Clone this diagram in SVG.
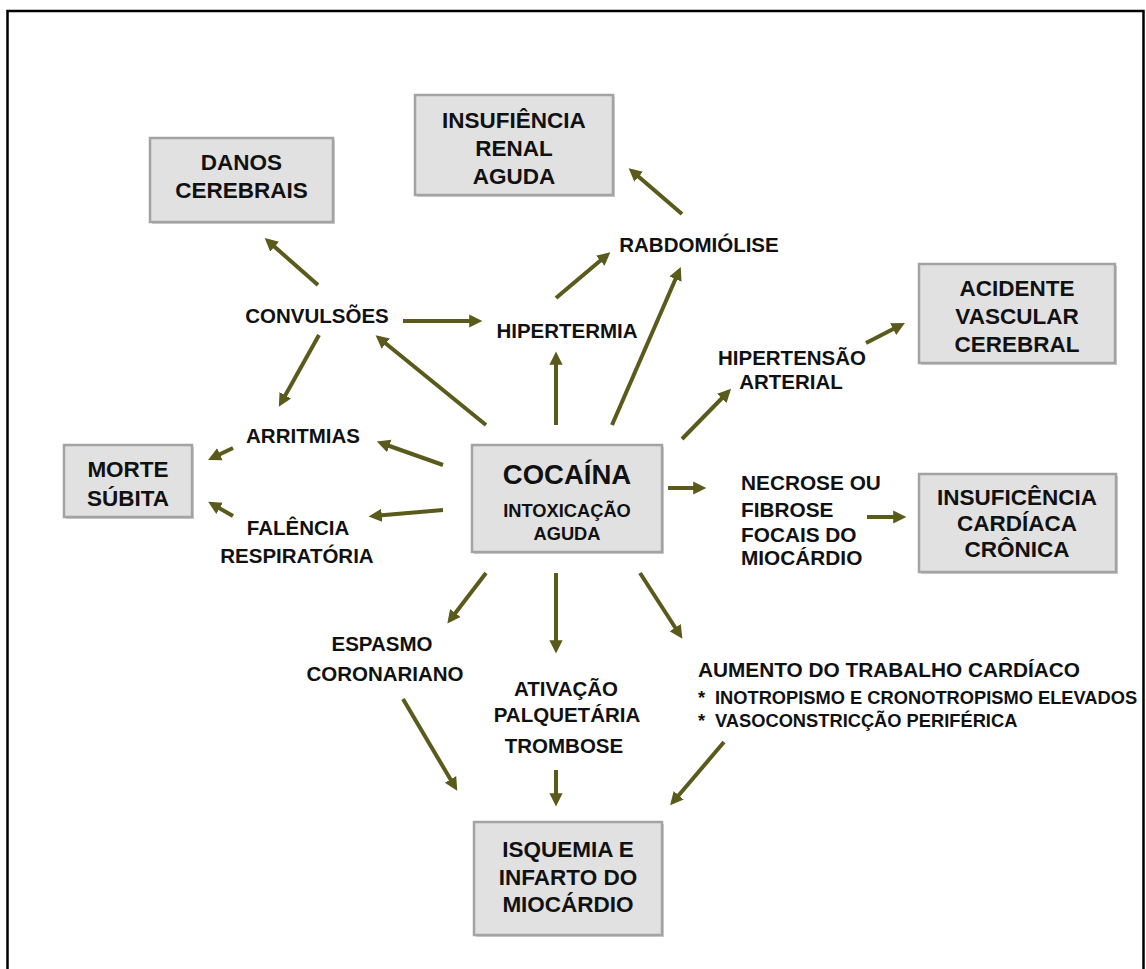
<svg xmlns="http://www.w3.org/2000/svg" width="1146" height="969" viewBox="0 0 1146 969">
  <style>
    .box { fill: #e1e1e1; stroke: #a3a3a3; stroke-width: 2.5; }
    .shadow { fill: #cfcfcf; }
    text { font-family: "Liberation Sans", Arial, Helvetica, sans-serif; font-weight: bold; fill: #111; }
    .bt { font-size: 22.5px; text-anchor: middle; }
    .lb { font-size: 20.5px; text-anchor: middle; }
    .lbs { font-size: 20.8px; }
    .sm { font-size: 18.3px; }
    .cn line { stroke: #5a5a1c; stroke-width: 4; marker-end: url(#ah); }
  </style>
  <defs>
    <marker id="ah" markerWidth="4" markerHeight="4" refX="2.2" refY="2" orient="auto" markerUnits="strokeWidth">
      <path d="M0,0.35 L3.3,2 L0,3.65 z" fill="#5a5a1c"/>
    </marker>
  </defs>

  <rect width="1146" height="969" fill="#ffffff"/>
  <!-- page frame -->
  <path d="M7.5,975 V11 H1143.5 V975" fill="none" stroke="#000" stroke-width="2.5"/>

  <!-- connectors -->
  <g id="connectors" class="cn">
    <line x1="682" y1="214" x2="632" y2="171"/>
    <line x1="556" y1="298" x2="607" y2="255"/>
    <line x1="612" y1="425" x2="679" y2="271"/>
    <line x1="556" y1="425" x2="556" y2="356"/>
    <line x1="486" y1="425" x2="379" y2="338"/>
    <line x1="403" y1="321" x2="478" y2="321"/>
    <line x1="318" y1="285" x2="268" y2="241"/>
    <line x1="319" y1="335" x2="281" y2="403"/>
    <line x1="443" y1="465" x2="381" y2="443"/>
    <line x1="233" y1="448" x2="212" y2="458"/>
    <line x1="233" y1="516" x2="212" y2="504"/>
    <line x1="443" y1="510" x2="373" y2="516"/>
    <line x1="682" y1="439" x2="728" y2="392"/>
    <line x1="866" y1="343" x2="901" y2="325"/>
    <line x1="668" y1="488" x2="702" y2="488"/>
    <line x1="867" y1="517" x2="902" y2="517"/>
    <line x1="486" y1="573" x2="450" y2="620"/>
    <line x1="556" y1="573" x2="556" y2="649"/>
    <line x1="640" y1="573" x2="680" y2="635"/>
    <line x1="403" y1="699" x2="455" y2="787"/>
    <line x1="556" y1="770" x2="556" y2="802"/>
    <line x1="724" y1="742" x2="673" y2="802"/>
  </g>

  <!-- boxed nodes -->
  <g id="insuficiencia-renal">
    <rect class="shadow" x="417" y="97" width="198" height="100"/>
    <rect class="box" x="415" y="95" width="198" height="100"/>
    <text class="bt" x="514" y="128">INSUFIÊNCIA</text>
    <text class="bt" x="514" y="156">RENAL</text>
    <text class="bt" x="514" y="184">AGUDA</text>
  </g>
  <g id="danos-cerebrais">
    <rect class="shadow" x="152" y="140" width="183" height="84"/>
    <rect class="box" x="150" y="138" width="183" height="84"/>
    <text class="bt" x="241.5" y="170">DANOS</text>
    <text class="bt" x="241.5" y="198">CEREBRAIS</text>
  </g>
  <g id="avc">
    <rect class="shadow" x="921" y="266" width="196" height="99"/>
    <rect class="box" x="919" y="264" width="196" height="99"/>
    <text class="bt" x="1017" y="296">ACIDENTE</text>
    <text class="bt" x="1017" y="324">VASCULAR</text>
    <text class="bt" x="1017" y="352">CEREBRAL</text>
  </g>
  <g id="cocaina">
    <rect class="shadow" x="474" y="447" width="190" height="107"/>
    <rect class="box" x="472" y="445" width="190" height="107"/>
    <text x="567" y="484" font-size="27.5" text-anchor="middle">COCAÍNA</text>
    <text x="567" y="517" font-size="18.3" text-anchor="middle">INTOXICAÇÃO</text>
    <text x="567" y="540" font-size="18.3" text-anchor="middle">AGUDA</text>
  </g>
  <g id="morte-subita">
    <rect class="shadow" x="66" y="447" width="128" height="72"/>
    <rect class="box" x="64" y="445" width="128" height="72"/>
    <text class="bt" x="128" y="477">MORTE</text>
    <text class="bt" x="128" y="506">SÚBITA</text>
  </g>
  <g id="insuficiencia-cardiaca">
    <rect class="shadow" x="921" y="476" width="197" height="98"/>
    <rect class="box" x="919" y="474" width="197" height="98"/>
    <text class="bt" x="1017" y="505">INSUFICÊNCIA</text>
    <text class="bt" x="1017" y="531">CARDÍACA</text>
    <text class="bt" x="1017" y="557">CRÔNICA</text>
  </g>
  <g id="isquemia">
    <rect class="shadow" x="476" y="824" width="188" height="113"/>
    <rect class="box" x="474" y="822" width="188" height="113"/>
    <text class="bt" x="568" y="857">ISQUEMIA E</text>
    <text class="bt" x="568" y="885">INFARTO DO</text>
    <text class="bt" x="568" y="912">MIOCÁRDIO</text>
  </g>

  <!-- text nodes -->
  <g id="rabdomiolise"><text class="lb" x="699" y="252">RABDOMIÓLISE</text></g>
  <g id="hipertermia"><text class="lb" x="567" y="338">HIPERTERMIA</text></g>
  <g id="convulsoes"><text class="lb" x="317" y="323">CONVULSÕES</text></g>
  <g id="arritmias"><text class="lb" x="303" y="443">ARRITMIAS</text></g>
  <g id="falencia">
    <text class="lb" x="298" y="535">FALÊNCIA</text>
    <text class="lb" x="297" y="563">RESPIRATÓRIA</text>
  </g>
  <g id="hipertensao">
    <text class="lb" x="792" y="365">HIPERTENSÃO</text>
    <text class="lb" x="791" y="389">ARTERIAL</text>
  </g>
  <g id="necrose">
    <text class="lbs" x="741" y="490">NECROSE OU</text>
    <text class="lbs" x="741" y="517">FIBROSE</text>
    <text class="lbs" x="741" y="542">FOCAIS DO</text>
    <text class="lbs" x="741" y="565">MIOCÁRDIO</text>
  </g>
  <g id="espasmo">
    <text class="lb" x="382" y="651">ESPASMO</text>
    <text class="lb" x="385" y="681">CORONARIANO</text>
  </g>
  <g id="ativacao">
    <text class="lb" x="566" y="696">ATIVAÇÃO</text>
    <text class="lb" x="567" y="722">PALQUETÁRIA</text>
    <text class="lb" x="564" y="753">TROMBOSE</text>
  </g>
  <g id="aumento">
    <text class="lbs" x="698" y="677">AUMENTO DO TRABALHO CARDÍACO</text>
    <text class="sm" x="698" y="704">*</text>
    <text class="sm" x="715" y="704">INOTROPISMO E CRONOTROPISMO ELEVADOS</text>
    <text class="sm" x="698" y="727">*</text>
    <text class="sm" x="715" y="727">VASOCONSTRICÇÃO PERIFÉRICA</text>
  </g>
</svg>
